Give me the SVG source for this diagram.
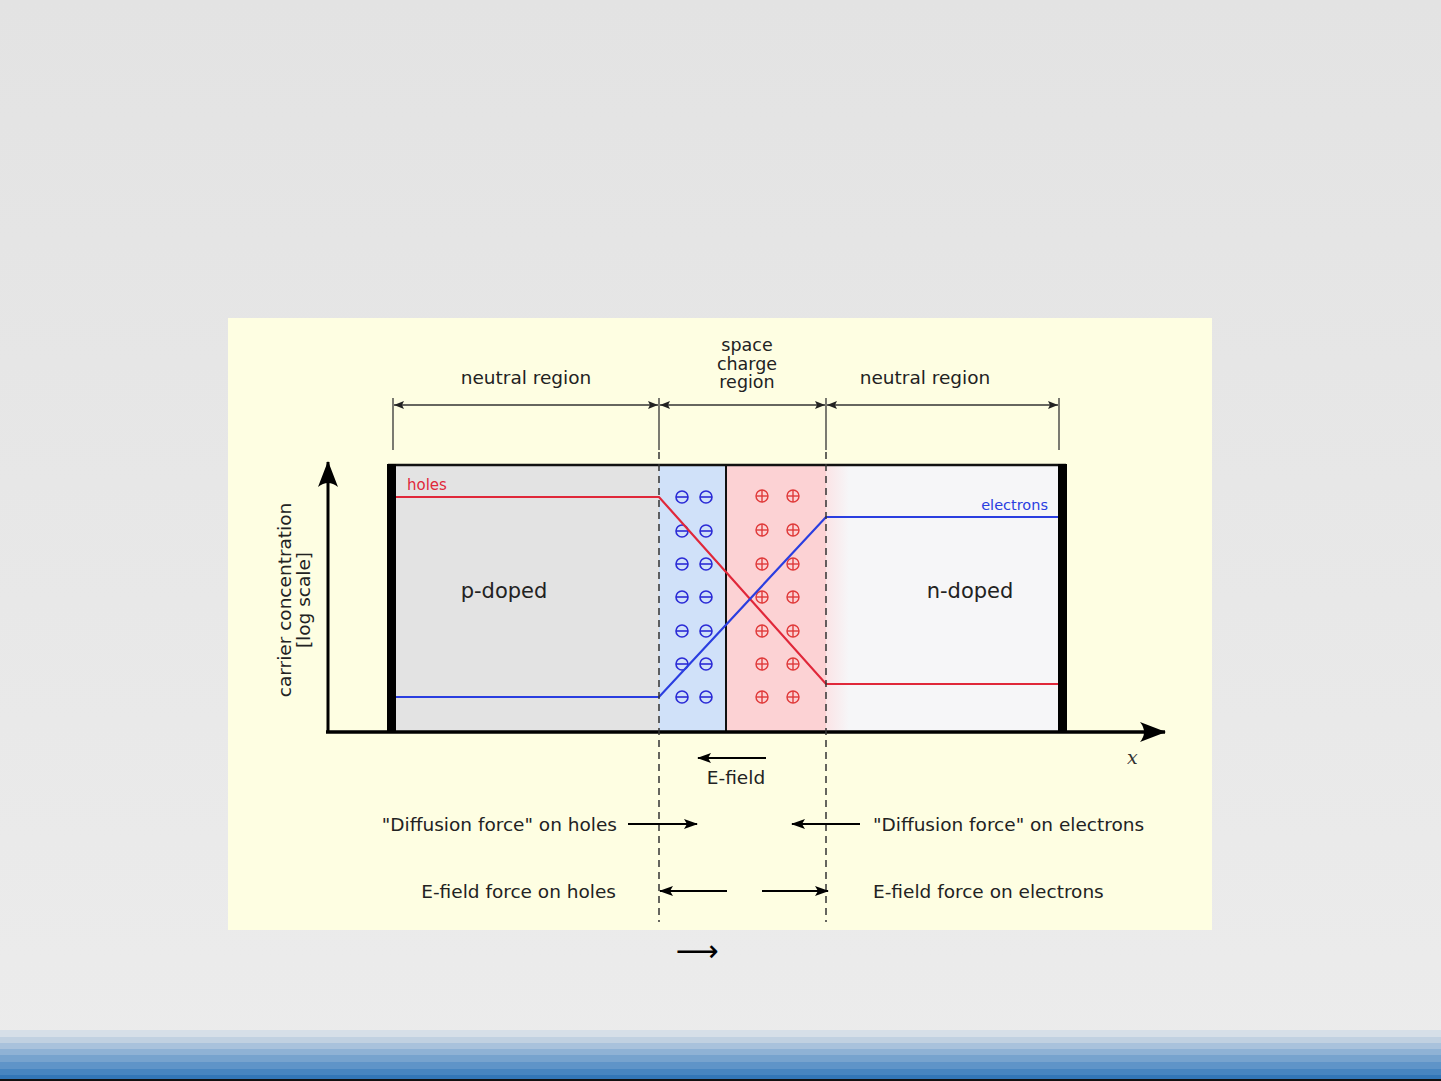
<svg xmlns="http://www.w3.org/2000/svg" width="1441" height="1081" viewBox="0 0 1441 1081">
<defs>
<linearGradient id="bg" x1="0" y1="0" x2="0" y2="1">
<stop offset="0" stop-color="#e3e3e3"/>
<stop offset="1" stop-color="#ececec"/>
</linearGradient>
<linearGradient id="nfade" x1="0" y1="0" x2="1" y2="0">
<stop offset="0" stop-color="#fbe4e6"/>
<stop offset="0.1" stop-color="#f6f6f8"/>
<stop offset="1" stop-color="#f6f6f8"/>
</linearGradient>
<marker id="dimE" viewBox="0 0 10 8" refX="10" refY="4" markerWidth="10" markerHeight="8" markerUnits="userSpaceOnUse" orient="auto">
<path d="M0,0 L10,4 L0,8 L2,4 Z" fill="#222"/>
</marker>
<marker id="dimS" viewBox="0 0 10 8" refX="0" refY="4" markerWidth="10" markerHeight="8" markerUnits="userSpaceOnUse" orient="auto">
<path d="M10,0 L0,4 L10,8 L8,4 Z" fill="#222"/>
</marker>
<marker id="arr" viewBox="0 0 14 10" refX="13" refY="5" markerWidth="14" markerHeight="10" markerUnits="userSpaceOnUse" orient="auto">
<path d="M0,0 L14,5 L0,10 L3,5 Z" fill="#000"/>
</marker>
<marker id="bigArr" viewBox="0 0 26 20" refX="25" refY="10" markerWidth="26" markerHeight="20" markerUnits="userSpaceOnUse" orient="auto">
<path d="M0,0 L26,10 L0,20 Q8,10 0,0 Z" fill="#000"/>
</marker>
<g id="minus">
<circle r="6" fill="none" stroke="#2b2bd6" stroke-width="1.6"/>
<line x1="-6" y1="0" x2="6" y2="0" stroke="#2b2bd6" stroke-width="1.6"/>
</g>
<g id="plus">
<circle r="6" fill="none" stroke="#e03a3a" stroke-width="1.4"/>
<line x1="-6" y1="0" x2="6" y2="0" stroke="#e03a3a" stroke-width="1.4"/>
<line x1="0" y1="-6" x2="0" y2="6" stroke="#e03a3a" stroke-width="1.4"/>
</g>
</defs>
<style>
text { font-family: "DejaVu Sans", "Liberation Sans", sans-serif; fill: #222; }
.lbl { font-size: 18.5px; }
.scr { font-size: 17.5px; }
.big { font-size: 21px; }
.dim { stroke: #333; stroke-width: 1.3; fill: none; }
.dash { stroke: #333; stroke-width: 1.5; stroke-dasharray: 7 5; fill: none; }
.force { stroke: #000; stroke-width: 2.2; fill: none; marker-end: url(#arr); }
</style>

<rect width="1441" height="1081" fill="url(#bg)"/>
<g id="footer">
<rect x="0" y="1030" width="1441" height="7" fill="#d6dfe8"/>
<rect x="0" y="1037" width="1441" height="6" fill="#c1d1e1"/>
<rect x="0" y="1043" width="1441" height="6" fill="#a9c2dc"/>
<rect x="0" y="1049" width="1441" height="6" fill="#8fb2d5"/>
<rect x="0" y="1055" width="1441" height="7" fill="#77a3ce"/>
<rect x="0" y="1062" width="1441" height="7" fill="#5f94c8"/>
<rect x="0" y="1069" width="1441" height="6" fill="#4785c0"/>
<rect x="0" y="1075" width="1441" height="4" fill="#3276b7"/>
<rect x="0" y="1079" width="1441" height="2" fill="#111"/>
</g>

<rect id="panel" x="228" y="318" width="984" height="612" fill="#fefee2"/>

<g id="regions">
<rect id="p-region" x="396" y="465" width="263" height="267" fill="#e3e3e3"/>
<rect id="neg-region" x="659" y="465" width="67" height="267" fill="#d0e1f9"/>
<rect id="pos-region" x="726" y="465" width="100" height="267" fill="#fcd2d4"/>
<rect id="n-region" x="826" y="465" width="232" height="267" fill="url(#nfade)"/>
<line x1="388" y1="465" x2="1066" y2="465" stroke="#111" stroke-width="2.5"/>
<rect x="387" y="464" width="9" height="269" fill="#000"/>
<rect x="1058" y="464" width="9" height="269" fill="#000"/>
<line x1="726" y1="465" x2="726" y2="732" stroke="#111" stroke-width="2"/>
</g>

<g id="charges">
<use href="#minus" x="682" y="497"/><use href="#minus" x="706" y="497"/>
<use href="#minus" x="682" y="531"/><use href="#minus" x="706" y="531"/>
<use href="#minus" x="682" y="564"/><use href="#minus" x="706" y="564"/>
<use href="#minus" x="682" y="597"/><use href="#minus" x="706" y="597"/>
<use href="#minus" x="682" y="631"/><use href="#minus" x="706" y="631"/>
<use href="#minus" x="682" y="664"/><use href="#minus" x="706" y="664"/>
<use href="#minus" x="682" y="697"/><use href="#minus" x="706" y="697"/>
<use href="#plus" x="762" y="496"/><use href="#plus" x="793" y="496"/>
<use href="#plus" x="762" y="530"/><use href="#plus" x="793" y="530"/>
<use href="#plus" x="762" y="564"/><use href="#plus" x="793" y="564"/>
<use href="#plus" x="762" y="597"/><use href="#plus" x="793" y="597"/>
<use href="#plus" x="762" y="631"/><use href="#plus" x="793" y="631"/>
<use href="#plus" x="762" y="664"/><use href="#plus" x="793" y="664"/>
<use href="#plus" x="762" y="697"/><use href="#plus" x="793" y="697"/>
</g>

<g id="curves">
<polyline id="holes-curve" points="396,497 659,497 826,684 1058,684" fill="none" stroke="#e0283a" stroke-width="2.2"/>
<polyline id="electrons-curve" points="396,697 659,697 826,517 1058,517" fill="none" stroke="#2a3ee0" stroke-width="2.2"/>
<text x="407" y="490" style="font-size:15px;fill:#e0283a">holes</text>
<text x="1048" y="510" text-anchor="end" style="font-size:14.5px;fill:#2a3ee0">electrons</text>
<text x="504" y="598" text-anchor="middle" class="big">p-doped</text>
<text x="970" y="598" text-anchor="middle" class="big">n-doped</text>
</g>

<g id="axes">
<line x1="328" y1="733" x2="328" y2="462" stroke="#000" stroke-width="3" marker-end="url(#bigArr)"/>
<line x1="326" y1="732" x2="1165" y2="732" stroke="#000" stroke-width="3.5" marker-end="url(#bigArr)"/>
<text x="1127" y="764" style="font-family:'DejaVu Serif','Liberation Serif',serif;font-style:italic;font-size:19px;fill:#333">x</text>
<text transform="translate(291,600) rotate(-90)" text-anchor="middle" class="lbl">carrier concentration</text>
<text transform="translate(310,600) rotate(-90)" text-anchor="middle" class="lbl">[log scale]</text>
</g>

<g id="dimensions">
<line class="dim" x1="393" y1="398" x2="393" y2="450"/>
<line class="dim" x1="659" y1="398" x2="659" y2="450"/>
<line class="dim" x1="826" y1="398" x2="826" y2="450"/>
<line class="dim" x1="1059" y1="398" x2="1059" y2="450"/>
<line class="dim" x1="394" y1="405" x2="658" y2="405" marker-start="url(#dimS)" marker-end="url(#dimE)"/>
<line class="dim" x1="660" y1="405" x2="825" y2="405" marker-start="url(#dimS)" marker-end="url(#dimE)"/>
<line class="dim" x1="827" y1="405" x2="1058" y2="405" marker-start="url(#dimS)" marker-end="url(#dimE)"/>
<text x="526" y="384" text-anchor="middle" class="lbl">neutral region</text>
<text x="925" y="384" text-anchor="middle" class="lbl">neutral region</text>
<text x="747" y="351" text-anchor="middle" class="scr">space</text>
<text x="747" y="369.5" text-anchor="middle" class="scr">charge</text>
<text x="747" y="388" text-anchor="middle" class="scr">region</text>
</g>

<g id="connectors">
<line class="dash" x1="659" y1="452" x2="659" y2="922"/>
<line class="dash" x1="826" y1="452" x2="826" y2="922"/>
<line class="force" x1="766" y1="758" x2="698" y2="758"/>
<line class="force" x1="628" y1="824" x2="697" y2="824"/>
<line class="force" x1="860" y1="824" x2="792" y2="824"/>
<line class="force" x1="727" y1="891" x2="660" y2="891"/>
<line class="force" x1="762" y1="891" x2="828" y2="891"/>
</g>

<g id="force-labels">
<text x="736" y="784" text-anchor="middle" class="lbl">E-field</text>
<text x="617" y="831" text-anchor="end" class="lbl">"Diffusion force" on holes</text>
<text x="873" y="831" class="lbl">"Diffusion force" on electrons</text>
<text x="616" y="898" text-anchor="end" class="lbl">E-field force on holes</text>
<text x="873" y="898" class="lbl">E-field force on electrons</text>
</g>

<text id="stray-arrow" x="697" y="961" text-anchor="middle" style="font-family:'DejaVu Sans',sans-serif;font-size:30px;fill:#000">⟶</text>
</svg>
